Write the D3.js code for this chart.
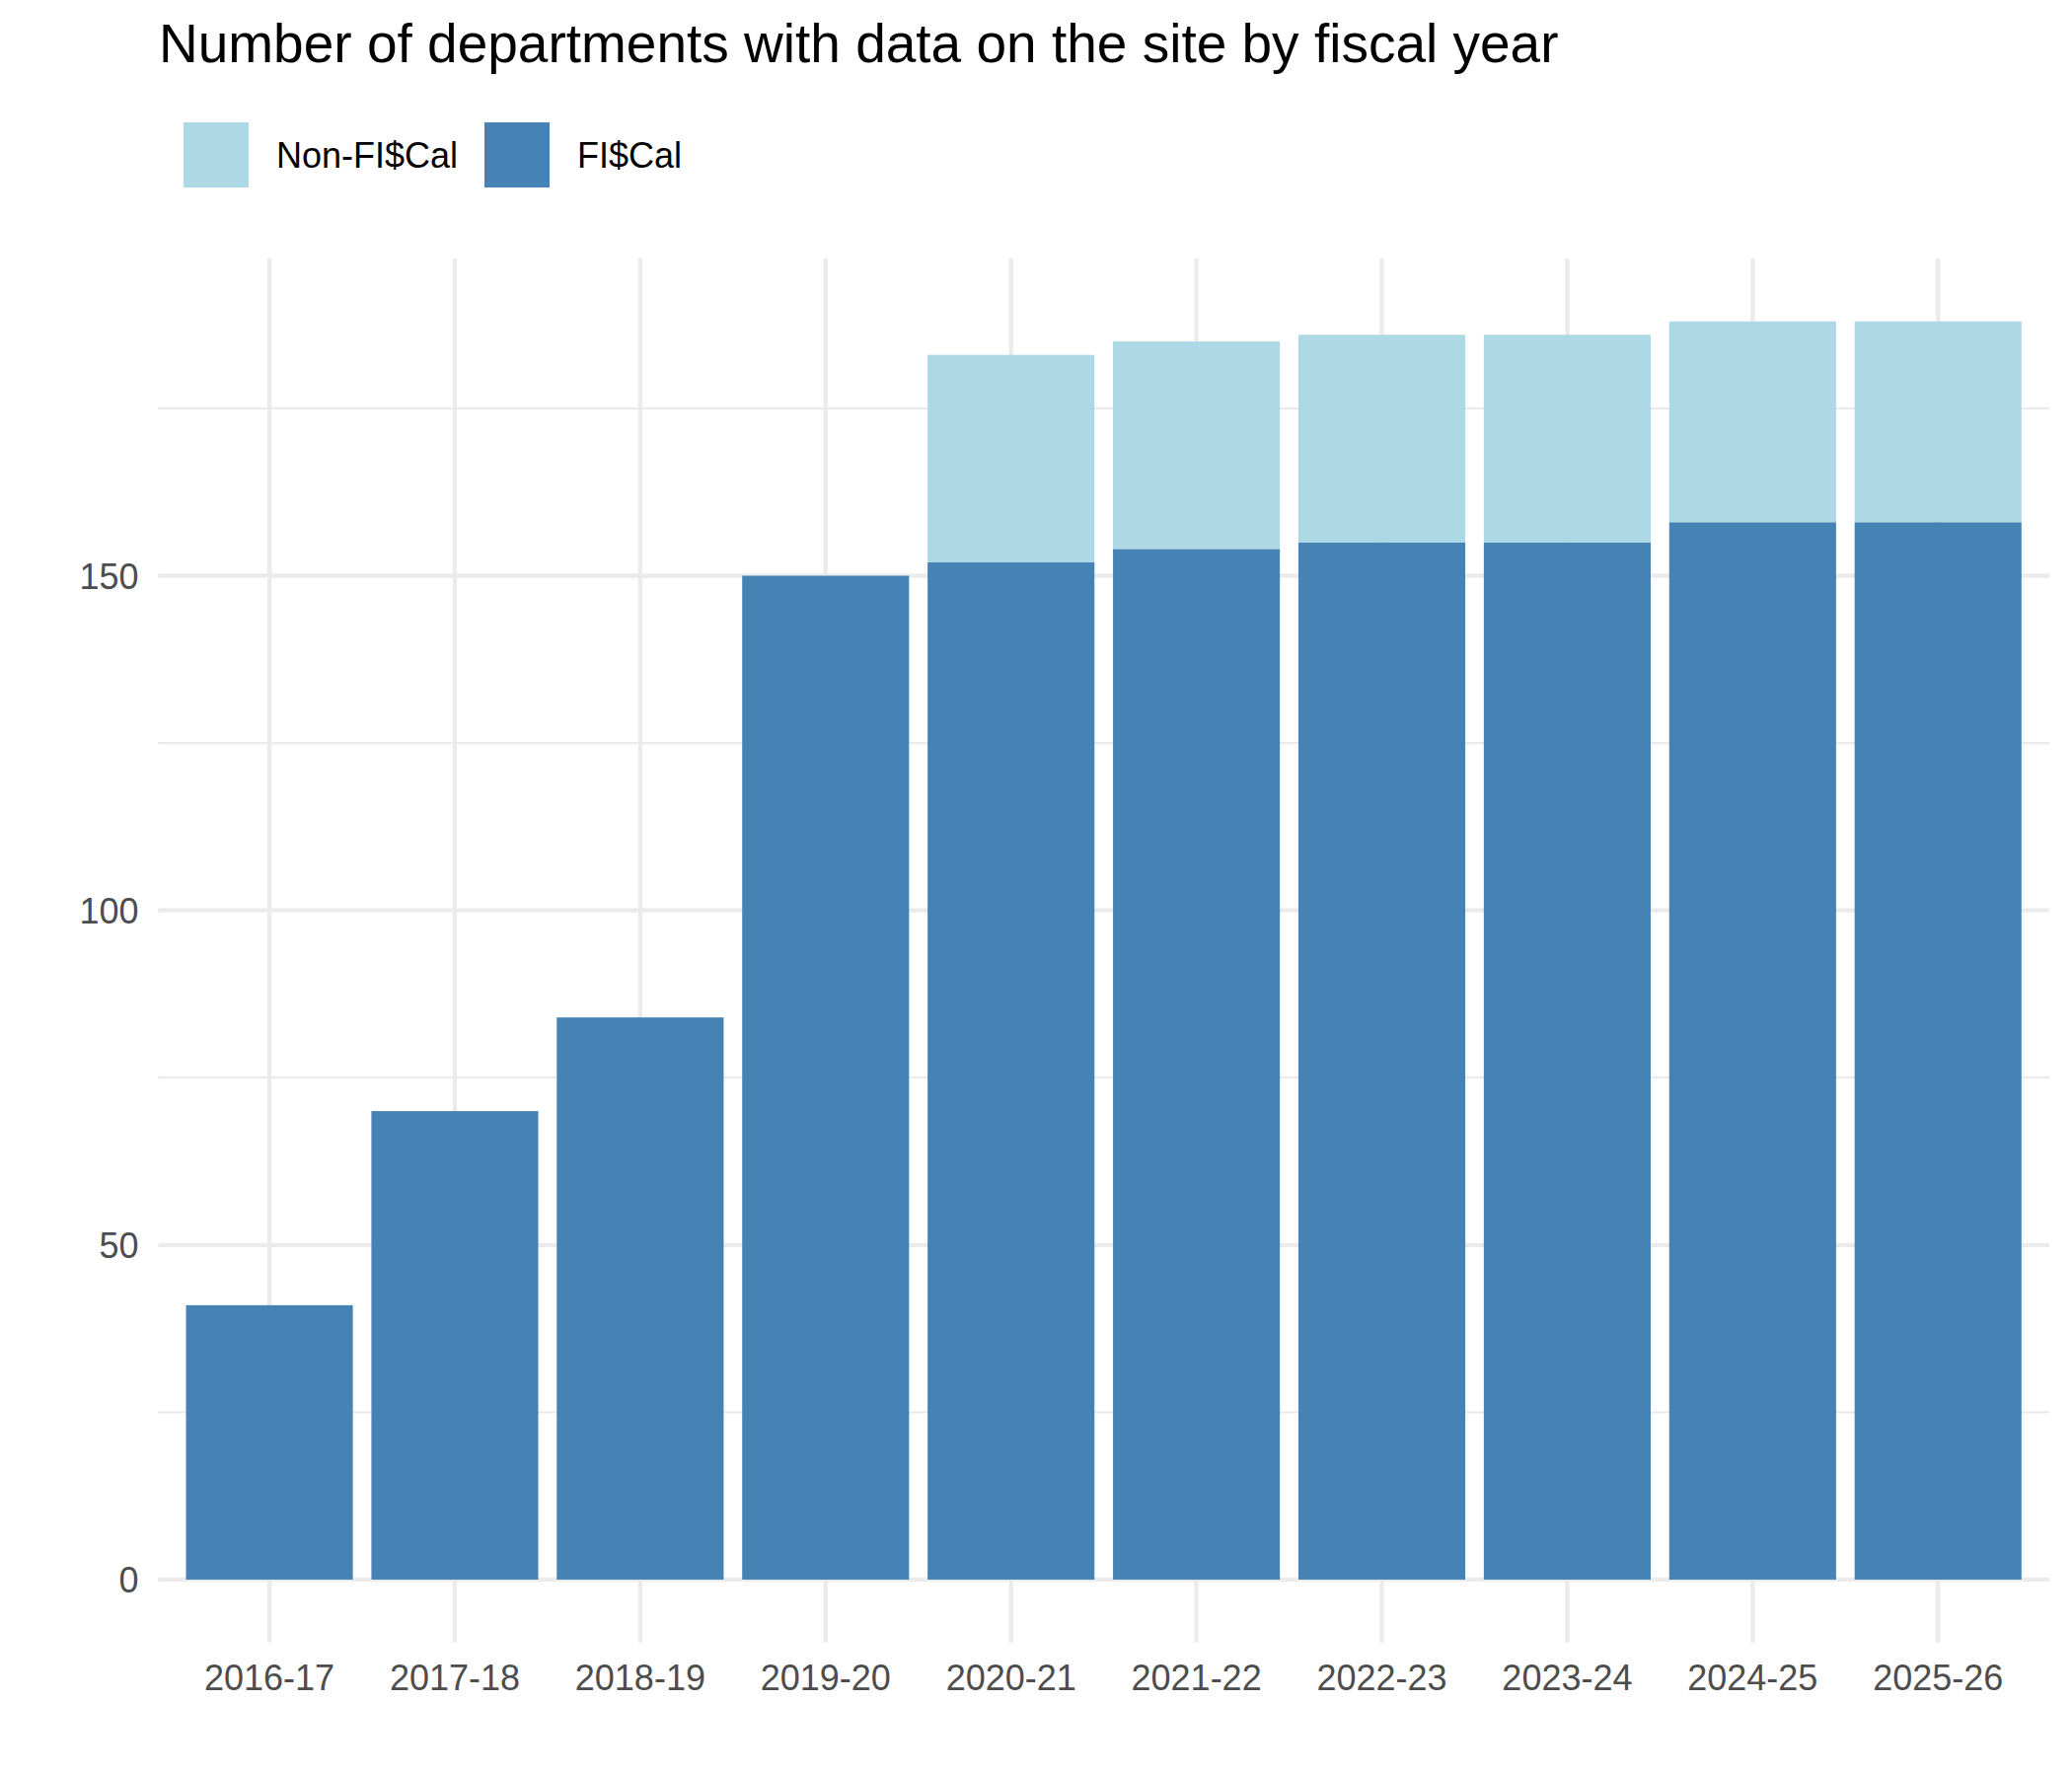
<!DOCTYPE html>
<html>
<head>
<meta charset="utf-8">
<script src="https://cdn.jsdelivr.net/npm/d3@7"></script>
<style>
  html, body { margin: 0; padding: 0; background: #ffffff; }
  svg { display: block; }
</style>
</head>
<body>
<svg id="chart" width="2100" height="1800"></svg>
<script>
// ---- data ----
const years = ["2016-17","2017-18","2018-19","2019-20","2020-21","2021-22","2022-23","2023-24","2024-25","2025-26"];
const fiscalValues = [41, 70, 84, 150, 152, 154, 155, 155, 158, 158];
const nonFiscalValues = [0, 0, 0, 0, 31, 31, 31, 31, 30, 30];
const seriesNames = ["Non-FI$Cal", "FI$Cal"];
const yMajorTicks = [0, 50, 100, 150];
const yMinorTicks = [25, 75, 125, 175];
const titleText = "Number of departments with data on the site by fiscal year";

// ---- layout ----
const W = 2100, H = 1800;
const panel = { left: 160.3, right: 2077, top: 262, bottom: 1664.7 };
const colors = { "Non-FI$Cal": "#ADD8E6", "FI$Cal": "#4682B4" };
const gridColor = "#EBEBEB";
const font = "'Liberation Sans', Arial, Helvetica, sans-serif";

const svg = d3.select("#chart");
svg.append("rect").attr("width", W).attr("height", H).attr("fill", "#ffffff");

const rows = years.map((y, i) => ({ year: y, "FI$Cal": fiscalValues[i], "Non-FI$Cal": nonFiscalValues[i] }));
const stack = d3.stack().keys(["FI$Cal", "Non-FI$Cal"]);
const stacked = stack(rows);

const maxTotal = d3.max(rows, d => d["FI$Cal"] + d["Non-FI$Cal"]);
const pad = maxTotal * 0.05;

const x = d3.scaleBand()
  .domain(years)
  .range([panel.left, panel.right])
  .paddingInner(0.1)
  .paddingOuter(0.15);

const y = d3.scaleLinear()
  .domain([-pad, maxTotal + pad])
  .range([panel.bottom, panel.top]);

// ---- grid ----
const grid = svg.append("g");
grid.selectAll("line.minor").data(yMinorTicks).enter().append("line")
  .attr("x1", panel.left).attr("x2", panel.right)
  .attr("y1", d => y(d)).attr("y2", d => y(d))
  .attr("stroke", gridColor).attr("stroke-width", 2.2);
grid.selectAll("line.majory").data(yMajorTicks).enter().append("line")
  .attr("x1", panel.left).attr("x2", panel.right)
  .attr("y1", d => y(d)).attr("y2", d => y(d))
  .attr("stroke", gridColor).attr("stroke-width", 4.3);
grid.selectAll("line.majorx").data(years).enter().append("line")
  .attr("x1", d => x(d) + x.bandwidth() / 2).attr("x2", d => x(d) + x.bandwidth() / 2)
  .attr("y1", panel.top).attr("y2", panel.bottom)
  .attr("stroke", gridColor).attr("stroke-width", 4.3);

// ---- bars ----
svg.append("g").selectAll("g").data(stacked).enter().append("g")
  .attr("fill", s => colors[s.key])
  .selectAll("rect").data(s => s.filter(d => d[1] - d[0] > 0)).enter().append("rect")
  .attr("x", d => x(d.data.year))
  .attr("width", x.bandwidth())
  .attr("y", d => y(d[1]))
  .attr("height", d => y(d[0]) - y(d[1]));

// ---- axes ----
const yAxis = d3.axisLeft(y).tickValues(yMajorTicks).tickSize(0).tickPadding(19.8);
const yg = svg.append("g").attr("transform", `translate(${panel.left},0)`).call(yAxis);
yg.select(".domain").remove();
yg.selectAll("text")
  .attr("dy", "0.36em")
  .attr("fill", "#4D4D4D")
  .style("font-family", font).style("font-size", "36px");

const xAxis = d3.axisBottom(x).tickSize(0).tickPadding(23);
const xg = svg.append("g").attr("transform", `translate(0,${panel.bottom})`).call(xAxis);
xg.select(".domain").remove();
xg.selectAll("text")
  .attr("fill", "#4D4D4D")
  .style("font-family", font).style("font-size", "36px");

// ---- title ----
svg.append("text")
  .attr("x", 161).attr("y", 63.3)
  .attr("fill", "#000000")
  .style("font-family", font).style("font-size", "55px")
  .text(titleText);

// ---- legend ----
const legendX = [186, 491];
const legend = svg.append("g");
seriesNames.forEach((name, i) => {
  legend.append("rect")
    .attr("x", legendX[i]).attr("y", 124)
    .attr("width", 66).attr("height", 66)
    .attr("fill", colors[name]);
  legend.append("text")
    .attr("x", legendX[i] + 94).attr("y", 170.3)
    .attr("fill", "#000000")
    .style("font-family", font).style("font-size", "36px")
    .text(name);
});
</script>
</body>
</html>
